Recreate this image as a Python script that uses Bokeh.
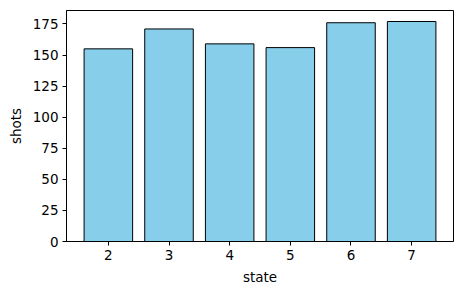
from bokeh.plotting import figure
from bokeh.models import Range1d, FixedTicker
from bokeh.embed import file_html
from bokeh.resources import INLINE

states = [2, 3, 4, 5, 6, 7]
shots = [155, 171, 159, 156, 176, 177]
y_ticks = [0, 25, 50, 75, 100, 125, 150, 175]

p = figure(width=463, height=294, output_backend="svg", toolbar_location=None,
           x_range=Range1d(1.31, 7.69), y_range=Range1d(0, 1.05 * max(shots)),
           min_border_left=66, min_border_right=10, min_border_top=10, min_border_bottom=53)

p.vbar(x=states, top=shots, width=0.8, fill_color="#87CEEB", line_color="black", line_width=1)

font = "DejaVu Sans"
fs = "13.5px"
for ax in (p.xaxis, p.yaxis):
    ax.major_label_text_font = font
    ax.major_label_text_font_size = fs
    ax.axis_label_text_font = font
    ax.axis_label_text_font_size = fs
    ax.axis_label_text_font_style = "normal"
    ax.axis_label_text_color = "black"
    ax.major_label_text_color = "black"
    ax.major_tick_out = 4
    ax.major_tick_in = 0
    ax.minor_tick_out = 0
    ax.minor_tick_in = 0
    ax.axis_line_color = "black"
    ax.major_tick_line_color = "black"
    ax.major_label_standoff = 4

p.xaxis.axis_label = "state"
p.yaxis.axis_label = "shots"
p.xaxis.ticker = FixedTicker(ticks=states)
p.yaxis.ticker = FixedTicker(ticks=y_ticks)
p.xaxis.axis_label_standoff = 6
p.yaxis.axis_label_standoff = 6

p.xgrid.visible = False
p.ygrid.visible = False
p.outline_line_color = "black"
p.outline_line_alpha = 1
p.outline_line_width = 1

open("out.html", "w").write(file_html(p, INLINE))
